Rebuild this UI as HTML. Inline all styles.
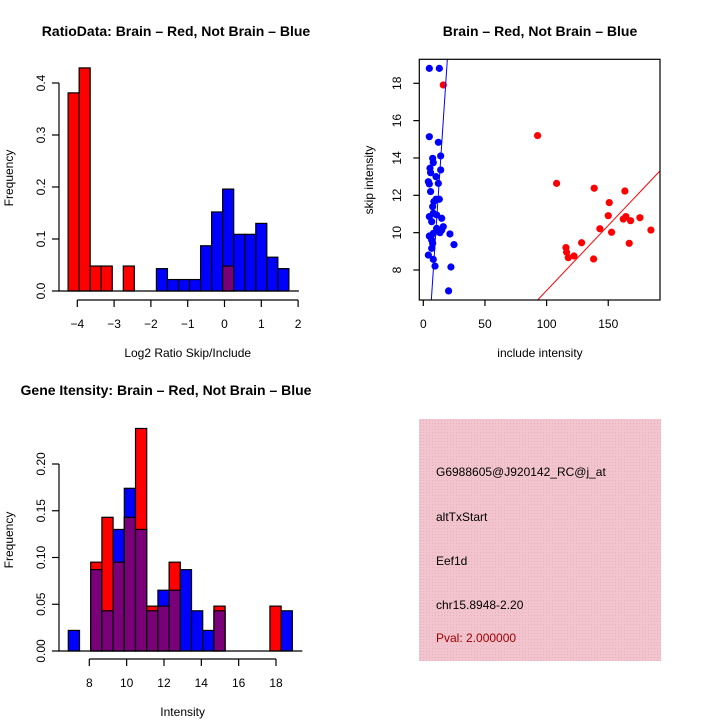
<!DOCTYPE html>
<html><head><meta charset="utf-8"><style>
html,body{margin:0;padding:0;background:#fff}
svg{display:block;font-family:"Liberation Sans",sans-serif}
</style></head><body>
<svg id="c" width="720" height="720" xmlns="http://www.w3.org/2000/svg">
<g id="g1"></g>
<g id="g2"></g>
<g id="g3"></g>
<g>
<defs><pattern id="hp" width="3" height="3" patternUnits="userSpaceOnUse"><rect width="3" height="3" fill="#f2c4ce"/><rect width="1" height="1" fill="#e8b0be"/></pattern></defs>
<rect x="419" y="419" width="242" height="242" fill="url(#hp)"/>
<g font-size="12">
<text x="436" y="476" fill="#000">G6988605@J920142_RC@j_at</text>
<text x="436" y="521" fill="#000">altTxStart</text>
<text x="436" y="565" fill="#000">Eef1d</text>
<text x="436" y="609" fill="#000">chr15.8948-2.20</text>
<text x="436" y="642" fill="#a00000">Pval: 2.000000</text>
</g></g>
</svg>
<script>
// Ratio histogram data (bins start -4.25, width 0.3)
const ratioRed = [0.381,0.429,0.048,0.048,0,0.048,0,0,0,0,0,0,0,0,0.048,0,0,0,0,0];
const ratioBlue = [0,0,0,0,0,0,0,0,0.043,0.022,0.022,0.022,0.087,0.152,0.196,0.109,0.109,0.130,0.065,0.043];
const ratioXTicks = [-4,-3,-2,-1,0,1,2];
const ratioYTicks = ["0.0","0.1","0.2","0.3","0.4"];
// Intensity histogram (bins start 6.875, width 0.6)
const intRed = [0,0,0.095,0.143,0.095,0.143,0.238,0.048,0.048,0.095,0,0,0,0.048,0,0,0,0,0.048,0];
const intBlue = [0.022,0,0.087,0.043,0.130,0.174,0.130,0.043,0.065,0.065,0.087,0.043,0.022,0.043,0,0,0,0,0,0.043];
const intXTicks = [8,10,12,14,16,18];
const intYTicks = ["0.00","0.05","0.10","0.15","0.20"];
// Scatter
const blueX = [4.9,13.0,4.9,12.2,14.1,7.6,8.1,5.4,5.9,4.1,4.9,12.2,10.3,14.1,5.9,8.6,13.0,10.3,7.6,8.1,14.9,4.9,6.8,10.8,14.9,13.5,16.2,10.8,4.9,8.1,6.8,7.6,6.8,4.1,8.1,9.5,21.6,24.9,22.4,20.5];
const blueY = [18.8,18.8,15.14,14.84,14.11,13.98,13.75,13.45,13.21,12.73,12.61,12.64,13.0,13.36,12.2,11.66,11.79,11.79,11.39,11.04,10.77,10.86,10.59,10.95,10.14,10.0,10.32,10.23,9.82,9.96,9.61,9.43,9.16,8.8,8.57,8.21,9.93,9.36,8.16,6.88];
const redX = [16.2,92.7,108.1,138.6,163.5,150.8,150.0,164.3,162.2,168.1,175.7,184.6,143.2,152.7,128.4,167.0,115.7,116.2,117.6,122.2,138.1];
const redY = [17.91,15.2,12.64,12.38,12.23,11.61,10.91,10.86,10.73,10.64,10.8,10.14,10.21,10.02,9.46,9.43,9.2,8.95,8.66,8.75,8.59];
const blueFit = [-0.06,0.992];
const redFit = [-0.07,0.0697];
const scXTicks = [0,50,100,150];
const scYTicks = [8,10,12,14,16,18];

const NS="http://www.w3.org/2000/svg";
function mk(p,tag,at,txt){const e=document.createElementNS(NS,tag);for(const k in at)e.setAttribute(k,at[k]);if(txt!==undefined)e.textContent=txt;p.appendChild(e);return e;}

function hist(g,o){
  const xs=v=>o.x0+(v-o.v0)*o.kx, ys=v=>o.y0-v*o.ky;
  const t=mk(g,'text',{x:o.tx,y:o.ty,'text-anchor':'middle','font-size':14,'font-weight':'bold'},o.title);
  
  o.red.forEach((r,i)=>{
    const b=o.blue[i];const a=o.start+i*o.w;const x1=xs(a),x2=xs(a+o.w);
    const mx=Math.max(r,b),mn=Math.min(r,b);
    if(mx<=0)return;
    const c=r>=b?'#ff0000':'#0000ff';
    const e=mk(g,'rect',{x:x1,y:ys(mx),width:x2-x1,height:ys(0)-ys(mx),fill:c,stroke:'#000','stroke-width':1.2});
    
    if(mn>0){const p=mk(g,'rect',{x:x1,y:ys(mn),width:x2-x1,height:ys(0)-ys(mn),fill:'#7a007a',stroke:'#000','stroke-width':1.2});
      }
  });
  const yv=o.yt.map(Number);
  mk(g,'line',{x1:o.yax,x2:o.yax,y1:ys(yv[0]),y2:ys(yv[yv.length-1]),stroke:'#000','stroke-width':1.2});
  o.yt.forEach(s=>{const y=ys(+s);mk(g,'line',{x1:o.yax-7,x2:o.yax,y1:y,y2:y,stroke:'#000','stroke-width':1.2});
    const l=mk(g,'text',{x:0,y:0,transform:`translate(${o.yax-14},${y}) rotate(-90)`,'text-anchor':'middle','font-size':12},s);
    });
  mk(g,'line',{x1:xs(o.start)-10,x2:xs(o.start+o.red.length*o.w)+10,y1:ys(0),y2:ys(0),stroke:'#000','stroke-width':1.2});
  mk(g,'line',{x1:xs(o.xt[0]),x2:xs(o.xt[o.xt.length-1]),y1:o.xax,y2:o.xax,stroke:'#000','stroke-width':1.2});
  o.xt.forEach(v=>{const x=xs(v);mk(g,'line',{x1:x,x2:x,y1:o.xax,y2:o.xax+7,stroke:'#000','stroke-width':1.2});
    const l=mk(g,'text',{x:x,y:o.xax+28,'text-anchor':'middle','font-size':12},String(v).replace('-','\u2212'));
    });
  const xl=mk(g,'text',{x:(xs(o.xt[0])+xs(o.xt[o.xt.length-1]))/2,y:o.xax+57,'text-anchor':'middle','font-size':12},o.xlabel);
  
  const yl=mk(g,'text',{x:0,y:0,transform:`translate(13,${o.ylc}) rotate(-90)`,'text-anchor':'middle','font-size':12},'Frequency');
  
}
hist(document.getElementById('g1'),{red:ratioRed,blue:ratioBlue,start:-4.25,w:0.3,v0:-4,x0:77.3,kx:36.8,y0:291,ky:520,
  xt:ratioXTicks,yt:ratioYTicks,yax:59,xax:300,title:'RatioData: Brain \u2013 Red, Not Brain \u2013 Blue',tx:176,ty:36,xlabel:'Log2 Ratio Skip/Include',ylc:178});
hist(document.getElementById('g3'),{red:intRed,blue:intBlue,start:6.875,w:0.6,v0:8,x0:89.3,kx:18.67,y0:651,ky:935,
  xt:intXTicks,yt:intYTicks,yax:59,xax:659,title:'Gene Itensity: Brain \u2013 Red, Not Brain \u2013 Blue',tx:166,ty:395,xlabel:'Intensity',ylc:540});

(function(){
  const g=document.getElementById('g2');
  const L=419.3,R=660,T=59.3,B=300;
  const xs=v=>423.3+v*1.233, ys=v=>270-(v-8)*18.67;
  const t=mk(g,'text',{x:540,y:36,'text-anchor':'middle','font-size':14,'font-weight':'bold'},'Brain \u2013 Red, Not Brain \u2013 Blue');
  
  mk(mk(g,'defs',{}),'clipPath',{id:'cp'}).appendChild(document.createElementNS(NS,'rect'));
  const cr=g.querySelector('#cp rect');cr.setAttribute('x',L);cr.setAttribute('y',T);cr.setAttribute('width',R-L);cr.setAttribute('height',B-T);
  blueX.forEach((x,i)=>{const c=mk(g,'circle',{cx:xs(x),cy:ys(blueY[i]),r:3.6,fill:'#0000ff'});
    });
  redX.forEach((x,i)=>{const c=mk(g,'circle',{cx:xs(x),cy:ys(redY[i]),r:3.6,fill:'#ff0000'});
    });
  const xa=-10,xb=220;
  const bl=mk(g,'line',{x1:xs(xa),y1:ys(blueFit[0]+blueFit[1]*xa),x2:xs(xb),y2:ys(blueFit[0]+blueFit[1]*xb),stroke:'#0000ff','stroke-width':1,'clip-path':'url(#cp)'});
  
  const rl=mk(g,'line',{x1:xs(xa),y1:ys(redFit[0]+redFit[1]*xa),x2:xs(xb),y2:ys(redFit[0]+redFit[1]*xb),stroke:'#ff0000','stroke-width':1,'clip-path':'url(#cp)'});
  
  const bx=mk(g,'rect',{x:L,y:T,width:R-L,height:B-T,fill:'none',stroke:'#000','stroke-width':1.2});
  
  scXTicks.forEach(v=>{const x=xs(v);mk(g,'line',{x1:x,x2:x,y1:B,y2:B+6,stroke:'#000','stroke-width':1.2});
    const l=mk(g,'text',{x:x,y:B+28,'text-anchor':'middle','font-size':12},String(v));
    });
  scYTicks.forEach(v=>{const y=ys(v);mk(g,'line',{x1:L-6,x2:L,y1:y,y2:y,stroke:'#000','stroke-width':1.2});
    const l=mk(g,'text',{x:0,y:0,transform:`translate(401,${y}) rotate(-90)`,'text-anchor':'middle','font-size':12},String(v));
    });
  const xl=mk(g,'text',{x:540,y:357,'text-anchor':'middle','font-size':12},'include intensity');
  
  const yl=mk(g,'text',{x:0,y:0,transform:'translate(373,180) rotate(-90)','text-anchor':'middle','font-size':12},'skip intensity');
  
})();
</script>
</body></html>
